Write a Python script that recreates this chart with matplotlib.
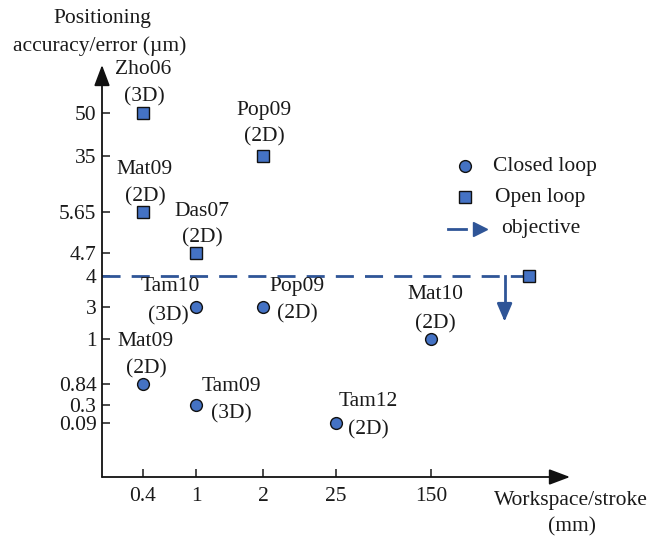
import numpy as np
import matplotlib
matplotlib.use("Agg")
import matplotlib.pyplot as plt

# ---------------- data ----------------
x_tick_values = [0.4, 1, 2, 25, 150]
y_tick_values = [0.09, 0.3, 0.84, 1, 3, 4, 4.7, 5.65, 35, 50]
x_tick_labels = ["0.4", "1", "2", "25", "150"]
y_tick_labels = ["0.09", "0.3", "0.84", "1", "3", "4", "4.7", "5.65", "35", "50"]

open_names = ["Zho06", "Pop09", "Mat09", "Das07"]
open_dims = ["(3D)", "(2D)", "(2D)", "(2D)"]
open_x = [0.4, 2, 0.4, 1]
open_y = [50, 35, 5.65, 4.7]

closed_names = ["Tam10", "Pop09", "Mat10", "Mat09", "Tam09", "Tam12"]
closed_dims = ["(3D)", "(2D)", "(2D)", "(2D)", "(3D)", "(2D)"]
closed_x = [1, 2, 150, 0.4, 1, 25]
closed_y = [3, 3, 1, 0.84, 0.3, 0.09]

objective_x = 750
objective_y = 4
objective_arrow_x = 600
objective_arrow_end_y = 2.1

# ---------------- layout ----------------
W, H = 651, 543
fig = plt.figure(figsize=(W / 100, H / 100), dpi=100)
plt.rcParams['font.family'] = ['Liberation Serif', 'DejaVu Serif']
FS = 15.5
TXT = '#1a1a1a'

x0, x1 = 102, 570     # pixel extent of axes
ytop, ybot = 65, 477
ax = fig.add_axes([x0 / W, (H - ybot) / H, (x1 - x0) / W, (ybot - ytop) / H])

# non-uniform schematic scales (value -> pixel position)
xs_vals = [0, 0.4, 1, 2, 25, 150, 1000]
xs_pix = [102, 143, 196, 263, 336, 431, 570]
ys_vals = [0, 0.09, 0.3, 0.84, 1, 3, 4, 4.7, 5.65, 35, 50, 100]
ys_pix = [477, 423, 405, 384, 339, 307, 276, 253, 212, 156, 113, 65]
ys_neg = [-p for p in ys_pix]

def xf(v):
    return np.interp(v, xs_vals, xs_pix)
def xi(p):
    return np.interp(p, xs_pix, xs_vals)
def yf(v):
    return np.interp(v, ys_vals, ys_neg)
def yi(p):
    return np.interp(p, ys_neg, ys_vals)

ax.set_xscale('function', functions=(xf, xi))
ax.set_yscale('function', functions=(yf, yi))
ax.set_xlim(0, 1000)
ax.set_ylim(0, 100)

for s in ax.spines.values():
    s.set_visible(False)
ax.set_facecolor('none')

ax.set_xticks(x_tick_values)
ax.set_xticklabels(x_tick_labels)
ax.set_yticks(y_tick_values)
ax.set_yticklabels(y_tick_labels)
ax.minorticks_off()
ax.tick_params(axis='both', direction='in', length=6, width=1.1, colors='#1a1a1a',
               labelsize=FS, labelcolor=TXT)
ax.tick_params(axis='x', pad=7)
ax.tick_params(axis='y', pad=4)

# axis lines with arrowheads
akw = dict(arrowstyle='-|>,head_length=0.85,head_width=0.32', color='#111111', lw=1.3,
           shrinkA=0, shrinkB=0, mutation_scale=15)
ax.annotate('', xy=(1, 0), xytext=(0, 0), xycoords='axes fraction',
            textcoords='axes fraction', arrowprops=akw, annotation_clip=False)
ax.annotate('', xy=(0, 1), xytext=(0, 0), xycoords='axes fraction',
            textcoords='axes fraction', arrowprops=akw, annotation_clip=False)

FACE = '#4472C4'
DASH = '#2F5597'

# objective dashed line and arrow
ax.plot([0, objective_x], [objective_y, objective_y], color=DASH, lw=2,
        dashes=(6.5, 4), zorder=2, clip_on=False)
ax.plot([objective_x], [objective_y], marker='s', ms=8, mfc=FACE, mec='#111111',
        mew=1, ls='none', zorder=4, clip_on=False)
ax.plot([objective_arrow_x, objective_arrow_x], [objective_y, objective_arrow_end_y * 1.3],
        color=DASH, lw=2, zorder=2)
ax.annotate('', xy=(objective_arrow_x, objective_arrow_end_y),
            xytext=(objective_arrow_x, 2.5),
            arrowprops=dict(arrowstyle='-|>,head_length=0.7,head_width=0.3', color=DASH,
                            lw=2, shrinkA=0, shrinkB=0, mutation_scale=15))

# data points
ax.plot(open_x, open_y, 's', ms=8, mfc=FACE, mec='#111111', mew=1, zorder=4, clip_on=False)
ax.plot(closed_x, closed_y, 'o', ms=8.5, mfc=FACE, mec='#111111', mew=1, zorder=4, clip_on=False)

# label offsets in pixels (line1 dx, dy, line2 dx, dy) relative to point
open_off = [(0, 44, 1, 16), (1, 45, 1, 19), (2, 42, 2, 15), (6, 42, 6, 15)]
closed_off = [(-26, 20, -28, -9), (34, 20, 34, -7), (4, 44, 4, 15),
              (3, 42, 3, 15), (35, 18, 35, -9), (32, 21, 32, -7)]

def label(x, y, n, d, off):
    ax.annotate(n, xy=(x, y), xytext=(off[0], off[1]), textcoords='offset pixels',
                ha='center', va='center', fontsize=FS, color=TXT)
    ax.annotate(d, xy=(x, y), xytext=(off[2], off[3]), textcoords='offset pixels',
                ha='center', va='center', fontsize=FS, color=TXT)

for x, y, n, d, o in zip(open_x, open_y, open_names, open_dims, open_off):
    label(x, y, n, d, o)
for x, y, n, d, o in zip(closed_x, closed_y, closed_names, closed_dims, closed_off):
    label(x, y, n, d, o)

# axis titles
def fxy(px, py):
    return px / W, 1 - py / H
fig.text(*fxy(102, 18), 'Positioning', ha='center', va='center', fontsize=FS, color=TXT)
fig.text(*fxy(100, 46), 'accuracy/error (\u00b5m)', ha='center', va='center', fontsize=FS, color=TXT)
fig.text(*fxy(571, 500), 'Workspace/stroke', ha='center', va='center', fontsize=FS, color=TXT)
fig.text(*fxy(572, 527), '(mm)', ha='center', va='center', fontsize=FS, color=TXT)

# legend (manual)
fig.lines.append(plt.Line2D([465 / W], [1 - 166 / H], marker='o', ms=8.5, mfc=FACE,
                            mec='#111111', mew=1, ls='none', transform=fig.transFigure))
fig.lines.append(plt.Line2D([465 / W], [1 - 197 / H], marker='s', ms=8, mfc=FACE,
                            mec='#111111', mew=1, ls='none', transform=fig.transFigure))
fig.lines.append(plt.Line2D([448 / W, 466 / W], [1 - 229 / H, 1 - 229 / H], color=DASH,
                            lw=2, transform=fig.transFigure))
fig.lines.append(plt.Line2D([480 / W], [1 - 229 / H], marker='>', ms=9.5, mfc=DASH,
                            mec=DASH, ls='none', transform=fig.transFigure))
fig.text(*fxy(493, 166), 'Closed loop', ha='left', va='center', fontsize=FS, color=TXT)
fig.text(*fxy(495, 197), 'Open loop', ha='left', va='center', fontsize=FS, color=TXT)
fig.text(*fxy(501, 229), 'objective', ha='left', va='center', fontsize=FS, color=TXT)

fig.savefig('out.png', dpi=100)
